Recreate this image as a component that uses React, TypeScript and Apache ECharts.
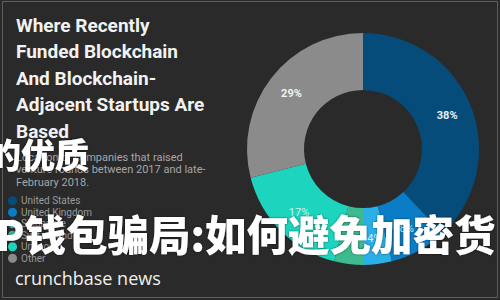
import React, { useEffect, useRef } from "react";
import * as echarts from "echarts";

const titleLines = ["Where Recently", "Funded Blockchain", "And Blockchain-", "Adjacent Startups Are", "Based"];
const subtitleLines = ["Location of companies that raised", "venture rounds between 2017 and late-", "February 2018."];
const categories = ["United States", "United Kingdom", "Singapore", "Switzerland", "Unknown", "Other"];
const shares = [38, 8, 4, 4, 17, 29];
const sliceColors = ["#064c7b", "#0a7dc6", "#2aafe9", "#3dba8e", "#1dd5bf", "#8b8b8b"];
const labelColors = ["#e8eef2", "#cfe8f6", "#d6f0fa", "#d6f0e4", "#c8f4ee", "#f2f2f2"];
const brandText = "crunchbase news";
const overlayTop = "的优质";
const overlayBottom = "P钱包骗局:如何避免加密货";

export default function App() {
  const ref = useRef<HTMLDivElement>(null);
  useEffect(() => {
    if (!ref.current) return;
    const chart = echarts.init(ref.current, null, { renderer: "svg" });
    chart.setOption({
      animation: false,
      backgroundColor: "#2a2a2a",
      title: [
        {
          text: titleLines.join("\n"),
          left: 16,
          top: 12,
          padding: 0,
          textStyle: { fontFamily: "Roboto", fontSize: 19, fontWeight: "bold", color: "#f2f2f2", lineHeight: 26.5 },
        },
        {
          text: subtitleLines.join("\n"),
          left: 16,
          top: 151,
          padding: 0,
          textStyle: { fontFamily: "Roboto", fontSize: 11, fontWeight: "normal", color: "#a6a6a6", lineHeight: 12.5 },
        },
        {
          text: brandText,
          left: 15,
          top: 266,
          padding: 0,
          textStyle: { fontFamily: "Open Sans", fontSize: 18, fontWeight: 500, color: "#f0f0f0", lineHeight: 24 },
        },
      ],
      legend: {
        orient: "vertical",
        left: 8,
        top: 195,
        padding: 0,
        itemGap: 0,
        itemWidth: 9,
        itemHeight: 9,
        icon: "circle",
        textStyle: { fontFamily: "Roboto", fontSize: 10, color: "#9a9a9a", lineHeight: 11.5, padding: [0, 0, 0, -1] },
        data: categories,
      },
      series: [
        {
          type: "pie",
          center: [363, 149],
          radius: [59, 116],
          startAngle: 90,
          clockwise: true,
          avoidLabelOverlap: false,
          label: {
            show: true,
            position: "inside",
            formatter: "{c}%",
            fontFamily: "Roboto",
            fontSize: 11,
            fontWeight: "bold",
          },
          labelLine: { show: false },
          data: categories.map((name, i) => ({
            name,
            value: shares[i],
            itemStyle: { color: sliceColors[i] },
            label: { color: labelColors[i], fontWeight: i === 0 || i === 5 ? "bold" : "normal" },
          })),
        },
      ],
      graphic: [
        {
          type: "rect",
          shape: { x: 2.5, y: 1.5, width: 495, height: 296 },
          style: { fill: "none", stroke: "#5e5e5e", lineWidth: 1 },
          z: 50,
        },
        {
          type: "text",
          x: -13,
          y: 153,
          z: 100,
          style: {
            text: overlayTop,
            fontFamily: "Noto Sans CJK SC",
            fontSize: 34,
            fontWeight: 900,
            fill: "#ffffff",
            verticalAlign: "middle",
            textShadowColor: "rgba(0,0,0,0.6)",
            textShadowBlur: 2,
          },
        },
        {
          type: "text",
          x: -4,
          y: 233,
          z: 100,
          style: {
            text: overlayBottom,
            fontFamily: "Noto Sans CJK SC",
            fontSize: 41.5,
            fontWeight: 900,
            fill: "#ffffff",
            verticalAlign: "middle",
            textShadowColor: "rgba(0,0,0,0.6)",
            textShadowBlur: 2,
          },
        },
      ],
    });
    return () => chart.dispose();
  }, []);
  return <div ref={ref} style={{ position: "fixed", left: 0, top: 0, width: 500, height: 300 }} />;
}
